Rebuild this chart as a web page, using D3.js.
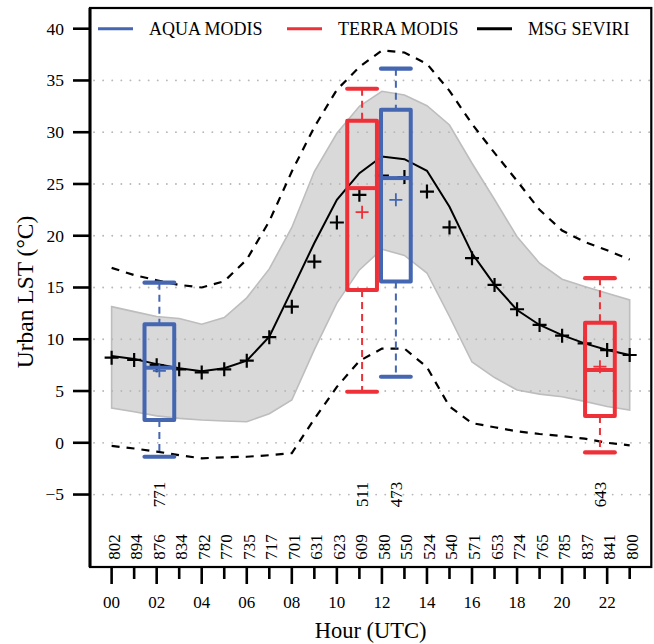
<!DOCTYPE html>
<html>
<head>
<meta charset="utf-8">
<script src="https://cdn.jsdelivr.net/npm/d3@7"></script>
<style>
  html, body { margin: 0; padding: 0; background: #ffffff; }
  svg { display: block; }
  text { font-family: "Liberation Serif", "Times New Roman", "DejaVu Serif", serif; fill: #000; }
</style>
</head>
<body>
<script>
// ---------------- DATA ----------------
const hours = [0,1,2,3,4,5,6,7,8,9,10,11,12,13,14,15,16,17,18,19,20,21,22,23];
const hourLabels = ["00","","02","","04","","06","","08","","10","","12","","14","","16","","18","","20","","22",""];
const hourCounts = [802,894,876,834,782,770,735,717,701,631,623,609,580,550,524,540,571,653,724,765,785,837,841,800];

// MSG SEVIRI hourly statistics
const seviriLine  = [8.39,8.09,7.6,7.2,6.9,7.2,7.93,10.25,14.75,19.3,23.47,26.05,27.66,27.4,26.27,22.8,18.3,15.25,12.83,11.38,10.4,9.6,8.96,8.48];
const seviriPlus  = [8.22,8.0,7.5,7.1,6.8,7.1,7.93,10.2,13.15,17.5,21.28,23.95,25.8,25.67,24.27,20.8,17.83,15.25,12.9,11.38,10.35,9.6,8.96,8.48];
const bandUpper   = [13.15,12.67,12.2,12.0,11.45,12.1,14.0,16.8,20.8,26.2,29.9,32.5,33.95,33.6,32.56,30.7,27.0,23.5,19.9,17.35,15.8,15.1,14.45,13.8];
const bandLower   = [3.35,3.0,2.6,2.36,2.2,2.1,2.03,2.8,4.13,9.0,13.5,16.7,18.7,18.1,16.4,12.2,7.8,6.3,5.1,4.7,4.45,4.0,3.5,3.16];
const dashUpper   = [16.9,16.2,15.7,15.25,15.0,15.6,17.7,21.4,26.2,30.5,34.1,36.3,37.9,37.7,36.6,34.0,30.8,28.0,25.3,22.5,20.5,19.4,18.6,17.7];
const dashLower   = [-0.3,-0.55,-0.85,-1.2,-1.5,-1.4,-1.35,-1.2,-1.0,2.3,5.4,7.9,9.1,9.1,7.3,3.5,1.9,1.5,1.1,0.85,0.65,0.4,0.0,-0.25];

// MODIS boxplots
const boxSensor = ["AQUA","TERRA","AQUA","TERRA"];
const boxHour   = [2.12, 11.12, 12.62, 21.68];
const boxLow    = [-1.35, 4.93, 6.38, -0.93];
const boxQ1     = [2.2, 14.77, 15.57, 2.58];
const boxMedian = [7.25, 24.6, 25.57, 7.03];
const boxQ3     = [11.45, 31.1, 32.17, 11.6];
const boxHigh   = [15.47, 34.2, 36.14, 15.9];
const boxMean   = [6.95, 22.28, 23.47, 7.35];
const boxCount  = [771, 511, 473, 643];

const yTicks = [-5,0,5,10,15,20,25,30,35,40];
const gridLevels = [-5,0,5,10,15,20,25,30,35];

const legendNames = ["AQUA MODIS","TERRA MODIS","MSG SEVIRI"];
const sensorColor = {AQUA: "#4566b1", TERRA: "#ee3038", SEVIRI: "#000000"};
const legendKeys = ["AQUA","TERRA","SEVIRI"];

// ---------------- LAYOUT ----------------
const W = 654, H = 644;
const plotL = 90, plotR = 651.3, plotT = 8, plotB = 567;

const x = d3.scaleLinear().domain([-0.96, 23.96]).range([plotL, plotR]);
const y = d3.scaleLinear().domain([-12, 42]).range([plotB, plotT]);

const svg = d3.select("body").append("svg").attr("width", W).attr("height", H)
  .attr("font-family", "'Liberation Serif', 'Times New Roman', 'DejaVu Serif', serif");

// band
const idx = hours.map((h, i) => i);
svg.append("path")
  .datum(idx)
  .attr("d", d3.area().x(i => x(hours[i])).y0(i => y(bandLower[i])).y1(i => y(bandUpper[i])))
  .attr("fill", "#d9d9d9")
  .attr("stroke", "#bdbdbd")
  .attr("stroke-width", 1.6);

// gridlines
svg.append("g").selectAll("line").data(gridLevels).join("line")
  .attr("x1", plotL + 4).attr("x2", plotR)
  .attr("y1", d => y(d)).attr("y2", d => y(d))
  .attr("stroke", "#b8b8b8")
  .attr("stroke-width", 1.8)
  .attr("stroke-linecap", "round")
  .attr("stroke-dasharray", "0.1,9");

// dashed envelope
const lineGen = arr => d3.line().x(i => x(hours[i])).y(i => y(arr[i]));
[dashUpper, dashLower].forEach(arr => {
  svg.append("path").datum(idx)
    .attr("d", lineGen(arr))
    .attr("fill", "none")
    .attr("stroke", "#000")
    .attr("stroke-width", 2.2)
    .attr("stroke-dasharray", "8,7");
});

// solid SEVIRI line
svg.append("path").datum(idx)
  .attr("d", lineGen(seviriLine))
  .attr("fill", "none")
  .attr("stroke", "#000")
  .attr("stroke-width", 2);

// plus markers
const plusPath = s => `M${-s},0H${s}M0,${-s}V${s}`;
svg.append("g").selectAll("path").data(idx).join("path")
  .attr("transform", i => `translate(${x(hours[i])},${y(seviriPlus[i])})`)
  .attr("d", plusPath(7))
  .attr("stroke", "#000")
  .attr("stroke-width", 2.2)
  .attr("fill", "none");

// boxplots
const halfW = 0.66;
const bIdx = boxHour.map((h, i) => i);
const bg = svg.append("g");
bIdx.forEach(i => {
  const c = sensorColor[boxSensor[i]];
  const cx = x(boxHour[i]);
  const xl = x(boxHour[i] - halfW), xr = x(boxHour[i] + halfW);
  // whiskers
  bg.append("line").attr("x1", cx).attr("x2", cx).attr("y1", y(boxHigh[i])).attr("y2", y(boxQ3[i]))
    .attr("stroke", c).attr("stroke-width", 2).attr("stroke-dasharray", "7,5");
  bg.append("line").attr("x1", cx).attr("x2", cx).attr("y1", y(boxQ1[i])).attr("y2", y(boxLow[i]))
    .attr("stroke", c).attr("stroke-width", 2).attr("stroke-dasharray", "7,5");
  // caps
  [boxHigh[i], boxLow[i]].forEach(v => {
    bg.append("line").attr("x1", xl).attr("x2", xr).attr("y1", y(v)).attr("y2", y(v))
      .attr("stroke", c).attr("stroke-width", 4.2).attr("stroke-linecap", "round");
  });
  // box
  bg.append("rect").attr("x", xl).attr("y", y(boxQ3[i]))
    .attr("width", xr - xl).attr("height", y(boxQ1[i]) - y(boxQ3[i]))
    .attr("fill", "none").attr("stroke", c).attr("stroke-width", 4).attr("stroke-linejoin", "round");
  // median
  bg.append("line").attr("x1", xl).attr("x2", xr).attr("y1", y(boxMedian[i])).attr("y2", y(boxMedian[i]))
    .attr("stroke", c).attr("stroke-width", 4);
  // mean
  bg.append("path").attr("transform", `translate(${cx},${y(boxMean[i])})`)
    .attr("d", plusPath(6.5)).attr("stroke", c).attr("stroke-width", 1.8).attr("fill", "none");
  // count label
  bg.append("text")
    .attr("transform", `translate(${cx + 6},${y(-5)}) rotate(-90)`)
    .attr("text-anchor", "middle")
    .attr("font-size", 17)
    .text(boxCount[i]);
});

// hourly counts at bottom
svg.append("g").selectAll("text").data(idx).join("text")
  .attr("transform", i => `translate(${x(hours[i]) + 8},${y(-11.3)}) rotate(-90)`)
  .attr("text-anchor", "start")
  .attr("font-size", 17)
  .text(i => hourCounts[i]);

// frame
svg.append("rect").attr("x", plotL).attr("y", plotT).attr("width", plotR - plotL).attr("height", plotB - plotT)
  .attr("fill", "none").attr("stroke", "#000").attr("stroke-width", 2.2);
svg.append("line").attr("x1", plotL).attr("x2", plotL).attr("y1", plotT).attr("y2", plotB)
  .attr("stroke", "#000").attr("stroke-width", 3);

// y axis
const yAxis = svg.append("g");
yAxis.selectAll("line").data(yTicks).join("line")
  .attr("x1", plotL - 17).attr("x2", plotL).attr("y1", d => y(d)).attr("y2", d => y(d))
  .attr("stroke", "#000").attr("stroke-width", 2.6);
yAxis.selectAll("text").data(yTicks).join("text")
  .attr("x", plotL - 26).attr("y", d => y(d)).attr("dy", "0.34em")
  .attr("text-anchor", "end").attr("font-size", 17.5)
  .text(d => d < 0 ? "\u2212" + Math.abs(d) : d);

// x axis
const xAxis = svg.append("g");
xAxis.selectAll("line").data(idx).join("line")
  .attr("x1", i => x(hours[i])).attr("x2", i => x(hours[i]))
  .attr("y1", plotB).attr("y2", i => plotB + (hourLabels[i] ? 17 : 12))
  .attr("stroke", "#000").attr("stroke-width", 2.6);
xAxis.selectAll("text").data(idx.filter(i => hourLabels[i])).join("text")
  .attr("x", i => x(hours[i])).attr("y", 608)
  .attr("text-anchor", "middle").attr("font-size", 17)
  .text(i => hourLabels[i]);

// axis titles
svg.append("text").attr("x", (plotL + plotR) / 2).attr("y", 638)
  .attr("text-anchor", "middle").attr("font-size", 22.5).text("Hour (UTC)");
svg.append("text").attr("transform", `translate(33,292) rotate(-90)`)
  .attr("text-anchor", "middle").attr("font-size", 23.5).text("Urban LST (\u00B0C)");

// legend
const legX = [98, 287, 477];
const lg = svg.append("g");
legendKeys.forEach((k, i) => {
  lg.append("line").attr("x1", legX[i]).attr("x2", legX[i] + 35)
    .attr("y1", y(40)).attr("y2", y(40))
    .attr("stroke", sensorColor[k]).attr("stroke-width", 3);
  lg.append("text").attr("x", legX[i] + 51).attr("y", y(40)).attr("dy", "0.34em")
    .attr("font-size", 18).text(legendNames[i]);
});
</script>
</body>
</html>
